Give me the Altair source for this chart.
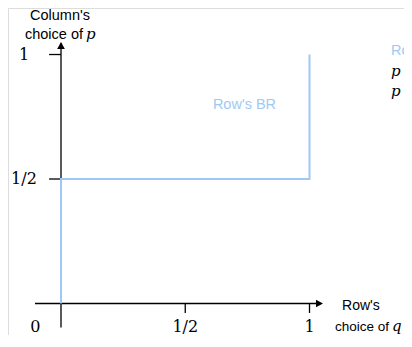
import altair as alt
import pandas as pd

# --- data ---
br_q = [0, 0, 1, 1]          # Row's best response: q values
br_p = [0, 0.5, 0.5, 1]      # corresponding p values
tick_vals = [0.5, 1]
tick_labels = ["1/2", "1"]
origin_label = ["0"]
x_title = ["Row's", "choice of", "q"]
y_title = ["Column's", "choice of", "p"]
br_label = ["Row's BR"]

W, H = 396, 327
xs = alt.Scale(domain=[-0.2133, 1.3803], nice=False, zero=False)
ys = alt.Scale(domain=[-0.1265, 1.1868], nice=False, zero=False)


def X(f="x"):
    return alt.X(f"{f}:Q", scale=xs, axis=None)


def Y(f="y"):
    return alt.Y(f"{f}:Q", scale=ys, axis=None)


# axis lines and ticks
seg = pd.DataFrame({
    "x":  [-0.1046, 0, tick_vals[0], tick_vals[1], -0.048, -0.048],
    "x2": [1.045, 0, tick_vals[0], tick_vals[1], 0, 0],
    "y":  [0, -0.0964, 0, 0, tick_vals[0], tick_vals[1]],
    "y2": [0, 1.045, -0.038, -0.038, tick_vals[0], tick_vals[1]],
})
axes = alt.Chart(seg).mark_rule(color="black", strokeWidth=1.3).encode(
    x=X(), x2="x2:Q", y=Y(), y2="y2:Q")

arr_r = alt.Chart(pd.DataFrame({"x": [1.0543], "y": [0]})).mark_point(
    shape="M0,0L-1,-0.55L-1,0.55Z", filled=True, color="black", opacity=1,
    size=196, strokeWidth=0).encode(x=X(), y=Y())
arr_u = alt.Chart(pd.DataFrame({"x": [0], "y": [1.050]})).mark_point(
    shape="M0,0L-0.55,1L0.55,1Z", filled=True, color="black", opacity=1,
    size=196, strokeWidth=0).encode(x=X(), y=Y())

BLUE = "#9fc9f4"
br = alt.Chart(pd.DataFrame({"x": br_q, "y": br_p, "i": range(len(br_q))})).mark_line(
    color=BLUE, strokeWidth=2, strokeCap="butt").encode(x=X(), y=Y(), order="i:Q")


def txt(xv, yv, labels, **kw):
    df = pd.DataFrame({"x": xv, "y": yv, "t": labels})
    return alt.Chart(df).mark_text(**kw).encode(x=X(), y=Y(), text="t:N")


SANS = "Liberation Sans"
SERIF = "DejaVu Serif"

ytick_txt = txt([-0.149, -0.149], tick_vals, tick_labels, font=SERIF, fontSize=16,
                align="center", baseline="middle")
xtick_txt = txt(tick_vals, [-0.0944, -0.0944], tick_labels, font=SERIF, fontSize=16,
                align="center", baseline="middle")
origin_txt = txt([-0.103], [-0.0944], origin_label, font=SERIF, fontSize=16,
                 align="center", baseline="middle")

ytitle1 = txt([-0.004], [1.1386], y_title[:1], font=SANS, fontSize=14.5,
              align="center", baseline="alphabetic")
ytitle2 = txt([0.0885], [1.0622], y_title[1:2], font=SANS, fontSize=14.5,
              align="right", baseline="alphabetic")
ytitle3 = txt([0.1006], [1.0622], y_title[2:], font=SERIF, fontSize=15,
              fontStyle="italic", align="left", baseline="alphabetic")

xtitle1 = txt([1.131], [-0.026], x_title[:1], font=SANS, fontSize=14,
              align="left", baseline="alphabetic")
xtitle2 = txt([1.103], [-0.1104], x_title[1:2], font=SANS, fontSize=13.5,
              align="left", baseline="alphabetic")
xtitle3 = txt([1.332], [-0.1104], x_title[2:], font=SERIF, fontSize=15,
              fontStyle="italic", align="left", baseline="alphabetic")

br_txt = txt([0.7384], [0.781], br_label, font=SANS, fontSize=14.5, color=BLUE,
             align="center", baseline="alphabetic")
# cut-off annotation at the right edge
side_title = txt([1.328], [0.998], br_label, font=SANS, fontSize=14.5, color=BLUE,
                 align="left", baseline="alphabetic")
side_p = txt([1.328, 1.328], [0.914, 0.833], ["p", "p"], font=SERIF, fontSize=15,
             fontStyle="italic", align="left", baseline="alphabetic")

chart = alt.layer(
    axes, arr_r, arr_u, br,
    ytick_txt, xtick_txt, origin_txt,
    ytitle1, ytitle2, ytitle3, xtitle1, xtitle2, xtitle3,
    br_txt, side_title, side_p,
).properties(width=W, height=H, autosize=alt.AutoSizeParams(type="none"), padding=0
).configure_view(stroke=None).configure(background="white")

chart.save("out.html", embed_options={"renderer": "svg", "actions": False})
